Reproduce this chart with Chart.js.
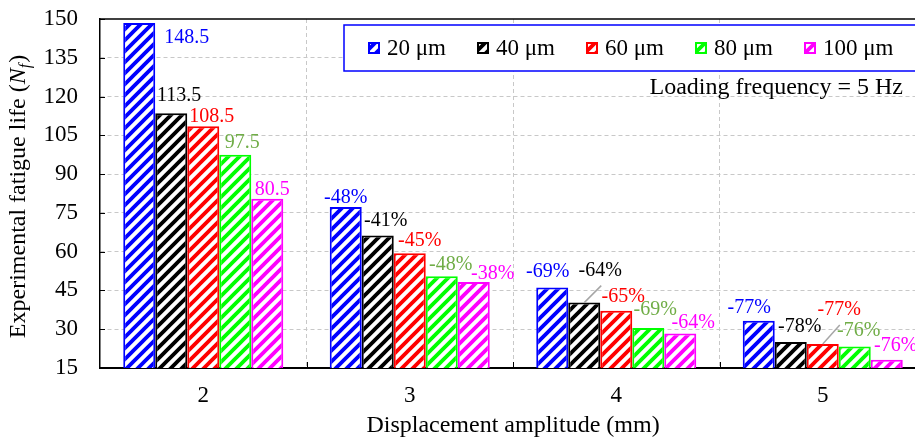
<!DOCTYPE html>
<html>
<head>
<meta charset="utf-8">
<script src="https://cdn.jsdelivr.net/npm/chart.js@4.4.0/dist/chart.umd.min.js"></script>
<style>
  html, body { margin: 0; padding: 0; background: #fff; overflow: hidden; }
  #wrap { width: 915px; height: 441px; overflow: hidden; }
</style>
</head>
<body>
<div id="wrap"><canvas id="myChart" width="930" height="441"></canvas></div>
<script>
// displacement amplitude (mm) on the x axis
var amplitudes = ['2', '3', '4', '5'];
var sizeNames = ['20 μm', '40 μm', '60 μm', '80 μm', '100 μm'];

// fatigue life per particle size
var life20 = [148.5, 77.3, 46.1, 33.3];
var life40 = [113.5, 66.3, 40.3, 25.1];
var life60 = [108.5, 59.4, 37.1, 24.3];
var life80 = [97.5, 50.5, 30.5, 23.3];
var life100 = [80.5, 48.3, 28.3, 18.2];

// text printed over each bar
var text20 = ['148.5', '-48%', '-69%', '-77%'];
var text40 = ['113.5', '-41%', '-64%', '-78%'];
var text60 = ['108.5', '-45%', '-65%', '-77%'];
var text80 = ['97.5', '-48%', '-69%', '-76%'];
var text100 = ['80.5', '-38%', '-64%', '-76%'];

var yMin = 15, yMax = 150, yStep = 15;

var serif = '"Liberation Serif", "Times New Roman", serif';
var barColors = ['#0000ff', '#000000', '#ff0000', '#00ff00', '#ff00ff'];
var textColors = ['#0000ff', '#000000', '#ff0000', '#70ad47', '#ff00ff'];

function hatch(color) {
    var s = 11;
    var c = document.createElement('canvas');
    c.width = s; c.height = s;
    var g = c.getContext('2d');
    g.fillStyle = '#fff';
    g.fillRect(0, 0, s, s);
    g.strokeStyle = color;
    g.lineWidth = 3.8;
    g.lineCap = 'square';
    g.beginPath();
    g.moveTo(0, s); g.lineTo(s, 0);
    g.moveTo(-2, 2); g.lineTo(2, -2);
    g.moveTo(s - 2, s + 2); g.lineTo(s + 2, s - 2);
    g.stroke();
    return g.createPattern(c, 'repeat');
}

var series = [life20, life40, life60, life80, life100];
var texts = [text20, text40, text60, text80, text100];

var datasets = series.map(function (vals, i) {
    return {
        label: sizeNames[i],
        data: vals,
        backgroundColor: hatch(barColors[i]),
        borderColor: barColors[i],
        borderWidth: 2,
        borderSkipped: false,
        categoryPercentage: 0.775,
        barPercentage: 1
    };
});

// label offsets from the bar's top centre: [dx, dy]
var labelShift = [
    [[47.5, 15], [0, -9.5], [-4.5, -16], [-9.5, -13]],
    [[8, -18], [8, -15], [16, -32], [9, -15]],
    [[8.5, -10], [10, -12.5], [7, -14], [16.5, -34.5]],
    [[7, -12], [9, -11.7], [7, -18.5], [4, -15.5]],
    [[5, -9], [19, -8], [13, -10.5], [9, -14]]
];
// short grey leader lines to labels lifted off their bars
var leaders = [
    { ds: 1, i: 2, dx: 17, dy: -17 },
    { ds: 2, i: 3, dx: 17, dy: -19 }
];

var overlay = {
    id: 'overlay',
    afterDraw: function (chart) {
        var ctx = chart.ctx, area = chart.chartArea;
        var ys = chart.scales.y;
        function seg(x1, y1, x2, y2) {
            ctx.beginPath(); ctx.moveTo(x1, y1); ctx.lineTo(x2, y2); ctx.stroke();
        }
        ctx.save();

        // frame top and inward ticks
        ctx.strokeStyle = '#000';
        ctx.lineWidth = 1.5;
        seg(area.left, area.top, chart.width, area.top);
        ctx.lineWidth = 1;
        ys.ticks.forEach(function (t) {
            var py = Math.round(ys.getPixelForValue(t.value)) + 0.5;
            seg(area.left, py, area.left + 5, py);
        });
        var step = (area.right - area.left) / amplitudes.length;
        for (var k = 1; k < amplitudes.length; k++) {
            var px = Math.round(area.left + k * step) + 0.5;
            seg(px, area.bottom, px, area.bottom - 6);
        }

        // leader lines
        ctx.strokeStyle = '#a6a6a6';
        ctx.lineWidth = 1.5;
        leaders.forEach(function (l) {
            var bar = chart.getDatasetMeta(l.ds).data[l.i];
            seg(bar.x, bar.y, bar.x + l.dx, bar.y + l.dy);
        });

        // value labels
        ctx.font = '20px ' + serif;
        ctx.textAlign = 'center';
        ctx.textBaseline = 'middle';
        texts.forEach(function (arr, d) {
            var bars = chart.getDatasetMeta(d).data;
            ctx.fillStyle = textColors[d];
            arr.forEach(function (txt, i) {
                var sh = labelShift[d][i];
                ctx.fillText(txt, bars[i].x + sh[0], bars[i].y + sh[1]);
            });
        });

        // legend box
        ctx.fillStyle = '#fff';
        ctx.fillRect(344, 25, chart.width - 344, 46);
        ctx.strokeStyle = '#0000ff';
        ctx.lineWidth = 1.5;
        ctx.strokeRect(344, 25, chart.width, 46);
        ctx.font = '23px ' + serif;
        ctx.textAlign = 'left';
        ctx.textBaseline = 'middle';
        chart.data.datasets.forEach(function (ds, d) {
            var lx = 368 + d * 109, ly = 42;
            ctx.fillStyle = ds.backgroundColor;
            ctx.fillRect(lx, ly, 12, 12);
            ctx.strokeStyle = ds.borderColor;
            ctx.lineWidth = 2;
            ctx.strokeRect(lx + 1, ly + 1, 10, 10);
            ctx.fillStyle = '#000';
            ctx.fillText(ds.label, lx + 19, 49);
        });

        // test condition note
        ctx.font = '24px ' + serif;
        ctx.textAlign = 'right';
        ctx.fillText('Loading frequency = 5 Hz', 903, 88);

        // y axis title with italic N_f
        var big = '24px ' + serif, ital = 'italic 24px ' + serif, sub = 'italic 16px ' + serif;
        var parts = [
            { t: 'Experimental fatigue life (', f: big, dy: 0 },
            { t: 'N', f: ital, dy: 0 },
            { t: 'f', f: sub, dy: 5 },
            { t: ')', f: big, dy: 0 }
        ];
        var total = 0;
        parts.forEach(function (p) { ctx.font = p.f; p.w = ctx.measureText(p.t).width; total += p.w; });
        ctx.translate(25, 197);
        ctx.rotate(-Math.PI / 2);
        ctx.textAlign = 'left';
        ctx.textBaseline = 'alphabetic';
        ctx.fillStyle = '#000';
        var cx = -total / 2;
        parts.forEach(function (p) {
            ctx.font = p.f;
            ctx.fillText(p.t, cx, p.dy);
            cx += p.w + (p.t === 'f' ? 1 : 0);
        });
        ctx.restore();
    }
};

var ctx = document.getElementById('myChart').getContext('2d');
var myChart = new Chart(ctx, {
    type: 'bar',
    data: {
        labels: amplitudes,
        datasets: datasets
    },
    plugins: [overlay],
    options: {
        responsive: false,
        animation: false,
        layout: { padding: { top: 19, right: 4, left: 0, bottom: 0 } },
        plugins: {
            legend: { display: false },
            tooltip: { enabled: false }
        },
        scales: {
            x: {
                afterFit: function (scale) {
                    scale.height = 73;
                    scale.paddingLeft = 0;
                    scale.paddingRight = 0;
                },
                grid: {
                    offset: true,
                    drawTicks: false,
                    color: function (c) { return c.index === 0 ? 'rgba(0,0,0,0)' : '#c8c8c8'; }
                },
                border: { color: '#000', width: 2, dash: [4, 3] },
                ticks: {
                    padding: 14,
                    color: '#000',
                    font: { family: serif, size: 23 }
                },
                title: {
                    display: true,
                    text: 'Displacement amplitude (mm)',
                    color: '#000',
                    font: { family: serif, size: 24 },
                    padding: { top: 0, bottom: 1 }
                }
            },
            y: {
                min: yMin,
                max: yMax,
                afterFit: function (scale) {
                    scale.width = 100;
                    scale.paddingTop = 0;
                    scale.paddingBottom = 0;
                },
                grid: {
                    drawTicks: false,
                    color: function (c) {
                        var v = c.tick ? c.tick.value : 0;
                        return (v === yMin || v === yMax) ? 'rgba(0,0,0,0)' : '#c8c8c8';
                    }
                },
                border: { color: '#000', width: 1.5, dash: [4, 3] },
                ticks: {
                    stepSize: yStep,
                    padding: 22,
                    color: '#000',
                    font: { family: serif, size: 23 }
                }
            }
        }
    }
});
</script>
</body>
</html>
